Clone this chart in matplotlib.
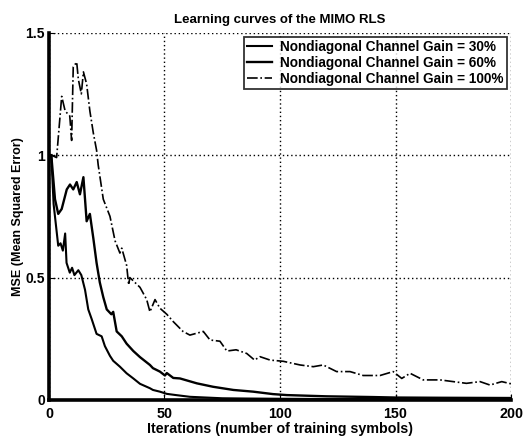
#------------------------------------------------------------------------------
#   Learning curves of the MIMO RLS (MSE vs. iterations)
#------------------------------------------------------------------------------
import matplotlib
matplotlib.use("Agg")
import matplotlib.pyplot as plt

# 30% nondiagonal channel gain
it_30 = [1, 2, 4, 5, 6, 7, 7.6, 9, 10, 11, 12.7, 14, 15.6, 17, 18.5, 20.6, 22.8, 24.2,
         26.4, 27.8, 30.7, 33.6, 36.5, 39.4, 43.7, 45, 48, 51, 55, 61, 68, 75, 85,
         100, 120, 140, 160, 180, 200]
mse_30 = [1.0, 0.80, 0.63, 0.64, 0.61, 0.68, 0.56, 0.52, 0.54, 0.51, 0.53, 0.51, 0.45,
          0.37, 0.33, 0.27, 0.26, 0.22, 0.18, 0.16, 0.136, 0.109, 0.088, 0.066, 0.048,
          0.041, 0.034, 0.025, 0.02, 0.013, 0.01, 0.007, 0.006, 0.005, 0.004, 0.004,
          0.003, 0.003, 0.003]

# 60% nondiagonal channel gain
it_60 = [1, 2.6, 4, 5.5, 7.7, 9.1, 10.5, 12, 13.4, 14.9, 16.3, 17.7, 19.2, 20.6, 22,
         23.5, 25, 27, 27.8, 29.3, 31.5, 33.6, 36.5, 39.4, 43.7, 45, 48, 50.2, 51,
         53.8, 56.7, 64, 71, 79.8, 88.4, 97, 103, 120, 140, 150, 170, 200]
mse_60 = [1.0, 0.82, 0.76, 0.78, 0.86, 0.88, 0.86, 0.89, 0.84, 0.91, 0.73, 0.76, 0.66,
          0.56, 0.48, 0.42, 0.37, 0.35, 0.36, 0.28, 0.26, 0.23, 0.2, 0.175, 0.143,
          0.13, 0.116, 0.1, 0.11, 0.09, 0.088, 0.068, 0.054, 0.041, 0.034, 0.024,
          0.02, 0.015, 0.012, 0.01, 0.009, 0.008]

# 100% nondiagonal channel gain
it_100 = [1, 3.3, 5.5, 7, 9, 9.8, 10.5, 12, 12.7, 14, 14.9, 16.3, 17.7, 19.2, 20.6,
          21.3, 23.5, 26.4, 28.6, 30.7, 31.5, 33.6, 34.5, 35, 39.4, 42.3, 43.7, 45.9,
          48, 51, 53.8, 58, 61, 66.8, 69.7, 74, 77, 81, 85.6, 89, 91.3, 95.7, 101.4,
          108.7, 114.4, 118.7, 124.5, 130.3, 136, 143.3, 149, 152.7, 156.3, 162,
          169.3, 175, 180.7, 186.6, 190.9, 196, 200]
mse_100 = [1.0, 0.99, 1.24, 1.18, 1.16, 1.06, 1.36, 1.38, 1.31, 1.25, 1.34, 1.29, 1.18,
           1.09, 1.02, 0.96, 0.82, 0.75, 0.65, 0.6, 0.62, 0.55, 0.47, 0.5, 0.46, 0.41,
           0.36, 0.41, 0.375, 0.35, 0.32, 0.28, 0.265, 0.28, 0.245, 0.24, 0.2, 0.205,
           0.19, 0.163, 0.177, 0.163, 0.158, 0.143, 0.136, 0.143, 0.116, 0.116, 0.1,
           0.1, 0.116, 0.088, 0.109, 0.082, 0.082, 0.075, 0.068, 0.075, 0.061, 0.075,
           0.066]

labels = ["Nondiagonal Channel Gain = 30%",
          "Nondiagonal Channel Gain = 60%",
          "Nondiagonal Channel Gain = 100%"]

def main() -> None:
    plt.rcParams['font.family'] = ['Liberation Sans', 'DejaVu Sans']
    plt.rcParams['font.weight'] = 'bold'
    fig = plt.figure(figsize=(5.29, 4.36), dpi=100)
    ax = fig.add_axes([0.0926, 0.0826, 0.8734, 0.8424])

    ax.plot(it_30, mse_30, 'k-', linewidth=1.5, label=labels[0])
    ax.plot(it_60, mse_60, 'k-', linewidth=1.7, label=labels[1])
    ax.plot(it_100, mse_100, 'k-.', linewidth=1.2, label=labels[2])

    ax.set_xlim(0, 200)
    ax.set_ylim(0, 1.5)
    ax.set_xticks([0, 50, 100, 150, 200])
    ax.set_yticks([0, 0.5, 1, 1.5])
    ax.set_yticklabels(['0', '0.5', '1', '1.5'])
    ax.grid(True, color='k', linestyle=(0, (1, 2)), linewidth=1.0)
    ax.tick_params(axis='x', direction='in', length=4, labelsize=10.3, pad=5)
    ax.tick_params(axis='y', direction='in', length=4, labelsize=10, pad=3)
    for s in ['top', 'right']:
        ax.spines[s].set_visible(False)
    for s in ['left', 'bottom']:
        ax.spines[s].set_linewidth(2.6)

    ax.set_title("Learning curves of the MIMO RLS", fontsize=9.5, pad=7,
                 fontweight='bold')
    ax.set_xlabel("Iterations (number of training symbols)", fontsize=10.3,
                  labelpad=1, fontweight='bold')
    ax.set_ylabel("MSE (Mean Squared Error)", fontsize=9, labelpad=1,
                  fontweight='bold')

    leg = ax.legend(loc='upper right', fontsize=9.8, frameon=True, fancybox=False,
                    handlelength=1.8, borderaxespad=0.3, borderpad=0.25,
                    labelspacing=0.14, handletextpad=0.6)
    leg.get_frame().set_edgecolor('k')
    leg.get_frame().set_linewidth(1.3)

    fig.savefig('out.png', dpi=100)

if __name__ == "__main__":
    main()
